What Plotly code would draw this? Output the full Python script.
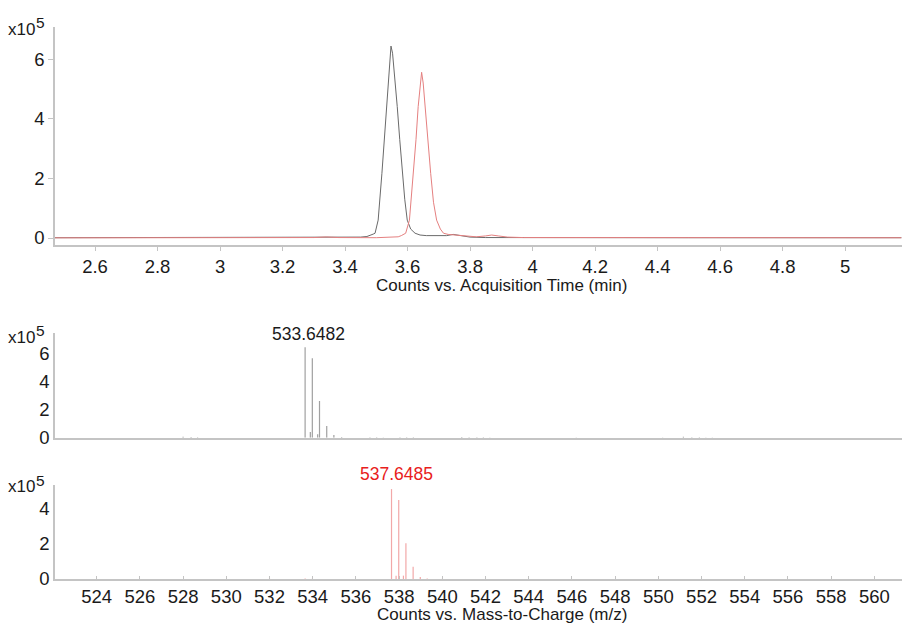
import plotly.graph_objects as go

W, H = 902, 626

# ---- Chromatogram data (time in min, counts) ----
black_t = [2.47, 3.0, 3.30, 3.34, 3.38, 3.45, 3.47, 3.48, 3.49, 3.496, 3.506, 3.518, 3.526, 3.533,
           3.540, 3.547, 3.552, 3.558, 3.567, 3.575, 3.583, 3.591, 3.599, 3.610, 3.624, 3.64,
           3.66, 3.70, 3.725, 3.746, 3.77, 3.80, 3.85, 4.0, 4.5, 5.18]
black_y = [1000, 1500, 2000, 4000, 2000, 3000, 5000, 8000, 13000, 16000, 60000, 217000, 330000, 441000,
           553000, 644000, 620000, 553000, 441000, 330000, 217000, 130000, 60000, 30000, 16000, 10000,
           8000, 7000, 8000, 12000, 7000, 3000, 1500, 1000, 1000, 1000]

red_t = [2.47, 3.0, 3.30, 3.34, 3.38, 3.50, 3.55, 3.57, 3.58, 3.594, 3.606, 3.619, 3.627, 3.634,
         3.640, 3.645, 3.650, 3.656, 3.665, 3.674, 3.683, 3.693, 3.705, 3.715, 3.73, 3.75, 3.78,
         3.82, 3.85, 3.869, 3.89, 3.92, 3.97, 4.2, 4.5, 5.18]
red_y = [500, 500, 1500, 3500, 1500, 1000, 1500, 4000, 8000, 16000, 60000, 217000, 330000, 441000,
         520000, 556000, 520000, 441000, 330000, 217000, 120000, 60000, 30000, 16000, 12000, 10000, 6000,
         4000, 7000, 10000, 7000, 3000, 1500, 1500, 1000, 800]

# ---- Mass spectra (m/z, counts) ----
spec1_mz = [528.0, 528.37, 528.67, 533.6482, 533.89, 533.982, 534.23, 534.315, 534.649, 534.98, 535.34,
            536.65, 536.96, 537.27, 538.04, 538.35, 538.66, 540.9, 541.24, 541.6, 541.9, 542.2,
            546.2, 550.2, 551.16, 551.55, 551.9, 552.2, 552.5]
spec1_int = [6000, 5000, 3000, 643000, 40000, 564000, 25000, 261000, 83000, 19000, 5000,
             3000, 3000, 2000, 4000, 3000, 3000, 5000, 4000, 4000, 3000, 2000,
             2000, 2000, 6000, 4000, 4000, 2000, 2000]

spec2_mz = [532.0, 533.65, 533.98, 537.6485, 537.86, 537.982, 538.2, 538.315, 538.649, 538.98, 539.3, 540.0]
spec2_int = [2000, 3000, 2000, 509000, 18000, 447000, 19000, 202000, 70000, 12000, 3000, 2000]

label1 = "533.6482"
label2 = "537.6485"

# ---- Tick labels ----
time_ticks = [2.6, 2.8, 3.0, 3.2, 3.4, 3.6, 3.8, 4.0, 4.2, 4.4, 4.6, 4.8, 5.0]
time_tick_text = ["2.6", "2.8", "3", "3.2", "3.4", "3.6", "3.8", "4", "4.2", "4.4", "4.6", "4.8", "5"]
mz_ticks = list(range(524, 561, 2))
mz_tick_text = [str(v) for v in mz_ticks]
y_top_ticks = [0, 200000, 400000, 600000]
y_top_text = ["0", "2", "4", "6"]
y_mid_ticks = [0, 200000, 400000, 600000]
y_mid_text = ["0", "2", "4", "6"]
y_bot_ticks = [0, 200000, 400000]
y_bot_text = ["0", "2", "4"]


def sticks(mz, inten):
    xs, ys = [], []
    for m, h in zip(mz, inten):
        xs += [m, m, None]
        ys += [0, h, None]
    return xs, ys


def px(x):
    return x / W


def py(y):
    return 1 - y / H


FONT = "Liberation Sans, Arial, sans-serif"
TXT = "#1a1a1a"
AXC = "#c4c4c4"

fig = go.Figure()
fig.add_trace(go.Scatter(x=black_t, y=black_y, mode="lines", line=dict(color="#6a6a6a", width=1),
                         xaxis="x", yaxis="y", hoverinfo="skip"))
fig.add_trace(go.Scatter(x=red_t, y=red_y, mode="lines", line=dict(color="#e58080", width=1),
                         xaxis="x", yaxis="y", hoverinfo="skip"))
sx1, sy1 = sticks(spec1_mz, spec1_int)
fig.add_trace(go.Scatter(x=sx1, y=sy1, mode="lines", line=dict(color="#a0a0a0", width=1.2),
                         xaxis="x3", yaxis="y2", hoverinfo="skip"))
sx2, sy2 = sticks(spec2_mz, spec2_int)
fig.add_trace(go.Scatter(x=sx2, y=sy2, mode="lines", line=dict(color="#f2a8a8", width=1.2),
                         xaxis="x2", yaxis="y3", hoverinfo="skip"))

tickfont = dict(family=FONT, size=18.5, color=TXT)
common_ax = dict(showgrid=False, zeroline=False, showline=True, linecolor=AXC, linewidth=1.5,
                 tickfont=tickfont, automargin=False, tickcolor=AXC)
xdom = [px(55), 1]

fig.update_layout(
    width=W, height=H, margin=dict(l=0, r=0, t=0, b=0),
    paper_bgcolor="white", plot_bgcolor="white", showlegend=False,
    xaxis=dict(domain=xdom, anchor="y", range=[2.472, 5.182], tickmode="array",
               tickvals=time_ticks, ticktext=time_tick_text, ticks="outside", ticklen=4,
               **common_ax),
    yaxis=dict(domain=[py(245), py(27)], anchor="x", range=[-23500, 708000], tickmode="array",
               tickvals=y_top_ticks, ticktext=y_top_text, ticks="outside", ticklen=5, **common_ax),
    xaxis2=dict(domain=xdom, anchor="y3", range=[522.07, 561.28], tickmode="array",
                tickvals=mz_ticks, ticktext=mz_tick_text, ticks="inside", ticklen=3, **common_ax),
    xaxis3=dict(domain=xdom, anchor="y2", matches="x2", showticklabels=False, ticks="", **common_ax),
    yaxis2=dict(domain=[py(437.7), py(332.7)], anchor="x3", range=[0, 746000], tickmode="array",
                tickvals=y_mid_ticks, ticktext=y_mid_text, ticks="", **common_ax),
    yaxis3=dict(domain=[py(579), py(485)], anchor="x2", range=[0, 532000], tickmode="array",
                tickvals=y_bot_ticks, ticktext=y_bot_text, ticks="", **common_ax),
)

ann = []
for ycen in [30, 337, 487]:
    ann.append(dict(xref="paper", yref="paper", x=px(36), y=py(ycen), xanchor="right", yanchor="middle",
                    text="x10", showarrow=False, borderpad=0, font=dict(family=FONT, size=17, color=TXT)))
    ann.append(dict(xref="paper", yref="paper", x=px(35), y=py(ycen - 7), xanchor="left", yanchor="middle",
                    text="5", showarrow=False, borderpad=0, font=dict(family=FONT, size=15.5, color=TXT)))
ann.append(dict(xref="paper", yref="paper", x=px(501.5), y=py(285), xanchor="center", yanchor="middle",
                text="Counts vs. Acquisition Time (min)", showarrow=False,
                font=dict(family=FONT, size=17, color=TXT)))
ann.append(dict(xref="paper", yref="paper", x=px(502), y=py(614), xanchor="center", yanchor="middle",
                text="Counts vs. Mass-to-Charge (m/z)", showarrow=False,
                font=dict(family=FONT, size=17, color=TXT)))
ann.append(dict(xref="x3", yref="y2", x=spec1_mz[3], y=spec1_int[3], xanchor="center", yanchor="bottom",
                text=label1, showarrow=False, xshift=3, yshift=1,
                font=dict(family=FONT, size=17.5, color=TXT)))
ann.append(dict(xref="x2", yref="y3", x=spec2_mz[3], y=spec2_int[3], xanchor="center", yanchor="bottom",
                text=label2, showarrow=False, xshift=5, yshift=3,
                font=dict(family=FONT, size=17.5, color="#e8201c")))
fig.update_layout(annotations=ann)

fig.write_html("out.html")
